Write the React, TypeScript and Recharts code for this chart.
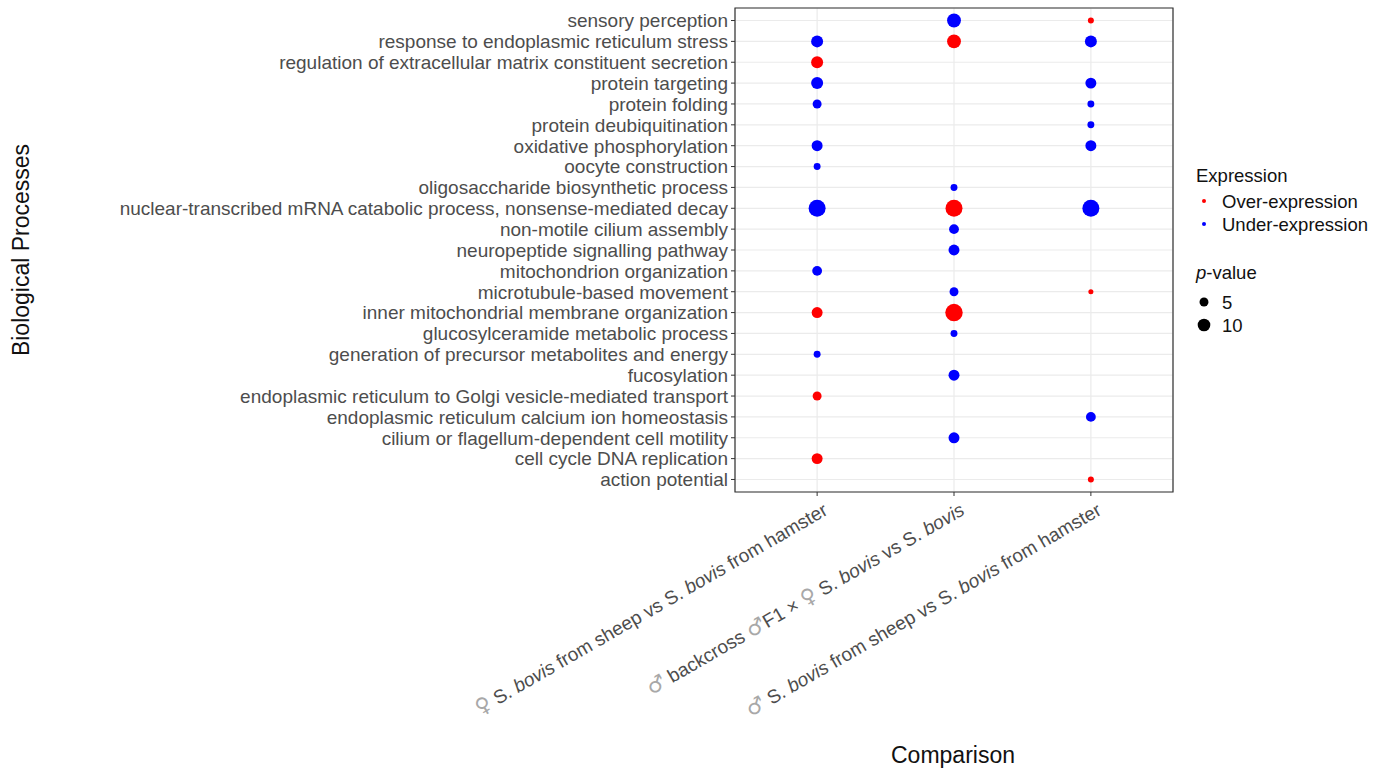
import React from "react";
import {
  CartesianGrid,
  ReferenceArea,
  Scatter,
  ScatterChart,
  XAxis,
  YAxis,
} from "recharts";

// top-to-bottom order as shown on the y axis
const PROCESSES = [
  "sensory perception",
  "response to endoplasmic reticulum stress",
  "regulation of extracellular matrix constituent secretion",
  "protein targeting",
  "protein folding",
  "protein deubiquitination",
  "oxidative phosphorylation",
  "oocyte construction",
  "oligosaccharide biosynthetic process",
  "nuclear-transcribed mRNA catabolic process, nonsense-mediated decay",
  "non-motile cilium assembly",
  "neuropeptide signalling pathway",
  "mitochondrion organization",
  "microtubule-based movement",
  "inner mitochondrial membrane organization",
  "glucosylceramide metabolic process",
  "generation of precursor metabolites and energy",
  "fucosylation",
  "endoplasmic reticulum to Golgi vesicle-mediated transport",
  "endoplasmic reticulum calcium ion homeostasis",
  "cilium or flagellum-dependent cell motility",
  "cell cycle DNA replication",
  "action potential",
];

type Part = { t: string; i?: boolean; sym?: boolean };
const COMPARISONS: Part[][] = [
  [{ t: "♀", sym: true }, { t: " S. " }, { t: "bovis", i: true }, { t: " from sheep vs S. " }, { t: "bovis", i: true }, { t: " from hamster" }],
  [{ t: "♂", sym: true }, { t: " backcross " }, { t: "♂", sym: true }, { t: "F1 × " }, { t: "♀", sym: true }, { t: " S. " }, { t: "bovis", i: true }, { t: " vs S. " }, { t: "bovis", i: true }],
  [{ t: "♂", sym: true }, { t: " S. " }, { t: "bovis", i: true }, { t: " from sheep vs S. " }, { t: "bovis", i: true }, { t: " from hamster" }],
];

// [process, comparison (1-3), p-value score]
const OVER: [string, number, number][] = [
  ["sensory perception", 3, 2.25],
  ["response to endoplasmic reticulum stress", 2, 12],
  ["regulation of extracellular matrix constituent secretion", 1, 9],
  ["nuclear-transcribed mRNA catabolic process, nonsense-mediated decay", 2, 18],
  ["microtubule-based movement", 3, 1.6],
  ["inner mitochondrial membrane organization", 1, 7.5],
  ["inner mitochondrial membrane organization", 2, 19],
  ["endoplasmic reticulum to Golgi vesicle-mediated transport", 1, 5],
  ["cell cycle DNA replication", 1, 7.5],
  ["action potential", 3, 2.25],
];

const UNDER: [string, number, number][] = [
  ["sensory perception", 2, 12],
  ["response to endoplasmic reticulum stress", 1, 9],
  ["response to endoplasmic reticulum stress", 3, 9],
  ["protein targeting", 1, 9],
  ["protein targeting", 3, 7.5],
  ["protein folding", 1, 5],
  ["protein folding", 3, 3],
  ["protein deubiquitination", 3, 3],
  ["oxidative phosphorylation", 1, 7.5],
  ["oxidative phosphorylation", 3, 7.5],
  ["oocyte construction", 1, 3],
  ["oligosaccharide biosynthetic process", 2, 3],
  ["nuclear-transcribed mRNA catabolic process, nonsense-mediated decay", 1, 18],
  ["nuclear-transcribed mRNA catabolic process, nonsense-mediated decay", 3, 18],
  ["non-motile cilium assembly", 2, 6],
  ["neuropeptide signalling pathway", 2, 7.5],
  ["mitochondrion organization", 1, 6],
  ["microtubule-based movement", 2, 5],
  ["glucosylceramide metabolic process", 2, 3],
  ["generation of precursor metabolites and energy", 1, 3],
  ["fucosylation", 2, 7.5],
  ["endoplasmic reticulum calcium ion homeostasis", 3, 6],
  ["cilium or flagellum-dependent cell motility", 2, 7.5],
];

const SIZE_BREAKS = [5, 10];

const FONT = "'Liberation Sans', Arial, sans-serif";
const N = PROCESSES.length;
const rowOf = (p: string) => N - PROCESSES.indexOf(p);
const toPoints = (rows: [string, number, number][]) =>
  rows.map(([p, c, v]) => ({ x: c, y: rowOf(p), v, name: p }));
const radius = (v: number) => 2 * Math.sqrt(v);

const dot = (fill: string) => (props: any) => {
  const { cx, cy, payload } = props;
  return <circle cx={cx} cy={cy} r={radius(payload.v)} fill={fill} />;
};

const YTick = (props: any) => {
  const { x, y, payload } = props;
  return (
    <text x={x} y={y} dy="0.36em" textAnchor="end" fill="#4d4d4d" fontSize={19} fontFamily={FONT}>
      {PROCESSES[N - payload.value]}
    </text>
  );
};

const XTick = (props: any) => {
  const { x, y, payload } = props;
  const parts = COMPARISONS[payload.value - 1];
  const ax = x + 5;
  const ay = y + 4;
  return (
    <text
      x={ax}
      y={ay}
      dy="0.72em"
      textAnchor="end"
      transform={`rotate(-30 ${ax} ${ay})`}
      fill="#4d4d4d"
      fontSize={19}
      fontFamily={FONT}
    >
      {parts.map((p, k) => (
        <tspan
          key={k}
          fontStyle={p.i ? "italic" : "normal"}
          fill={p.sym ? "#a8a8a8" : "#4d4d4d"}
          fontFamily={p.sym ? "'DejaVu Sans', sans-serif" : undefined}
          fontSize={p.sym ? 21 : undefined}
        >
          {p.t}
        </tspan>
      ))}
    </text>
  );
};

export default function App() {
  const over = toPoints(OVER);
  const under = toPoints(UNDER);
  const yTicks = PROCESSES.map((_, i) => i + 1);
  return (
    <div style={{ position: "absolute", left: 0, top: 0, width: 1387, height: 771, background: "#fff", fontFamily: FONT }}>
      <ScatterChart width={1387} height={771} margin={{ top: 8, right: 214, left: 0, bottom: 0 }}>
        <CartesianGrid stroke="#ebebeb" strokeWidth={1.2} />
        <XAxis
          type="number"
          dataKey="x"
          domain={[0.4, 3.6]}
          ticks={[1, 2, 3]}
          height={279}
          tickSize={4}
          tickMargin={2}
          axisLine={false}
          tickLine={{ stroke: "#333" }}
          tick={<XTick />}
          interval={0}
          label={{
            content: () => (
              <text x={953} y={763} textAnchor="middle" fontSize={23} fontFamily={FONT} fill="#111">
                Comparison
              </text>
            ),
          }}
        />
        <YAxis
          type="number"
          dataKey="y"
          domain={[0.4, N + 0.6]}
          ticks={yTicks}
          width={735}
          tickSize={4}
          tickMargin={3}
          axisLine={false}
          tickLine={{ stroke: "#333" }}
          tick={<YTick />}
          interval={0}
          label={{
            content: () => (
              <text x={29} y={250} transform="rotate(-90 29 250)" textAnchor="middle" fontSize={23} fontFamily={FONT} fill="#111">
                Biological Processes
              </text>
            ),
          }}
        />
        <ReferenceArea x1={0.4} x2={3.6} y1={0.4} y2={N + 0.6} fill="none" stroke="#333" strokeWidth={1.2} ifOverflow="extendDomain" />
        <Scatter name="Over-expression" data={over} shape={dot("#ff0000")} isAnimationActive={false} />
        <Scatter name="Under-expression" data={under} shape={dot("#0000ff")} isAnimationActive={false} />
      </ScatterChart>

      <svg style={{ position: "absolute", left: 1180, top: 150 }} width={207} height={200} fontFamily={FONT} fontSize={18.5}>
        <g transform="translate(-1180 -150)">
          <text x={1196} y={182} fill="#111">Expression</text>
          {[
            ["#ff0000", "Over-expression", 201],
            ["#0000ff", "Under-expression", 224],
          ].map(([c, t, yy]) => (
            <g key={t as string}>
              <circle cx={1204} cy={yy as number} r={2} fill={c as string} />
              <text x={1222} y={yy as number} dy="0.36em" fill="#111">{t}</text>
            </g>
          ))}
          <text x={1196} y={279} fill="#111">
            <tspan fontStyle="italic">p</tspan>-value
          </text>
          {SIZE_BREAKS.map((b, k) => (
            <g key={b}>
              <circle cx={1204} cy={302 + k * 23} r={radius(b)} fill="#000" />
              <text x={1222} y={302 + k * 23} dy="0.36em" fill="#111">{b}</text>
            </g>
          ))}
        </g>
      </svg>
    </div>
  );
}
